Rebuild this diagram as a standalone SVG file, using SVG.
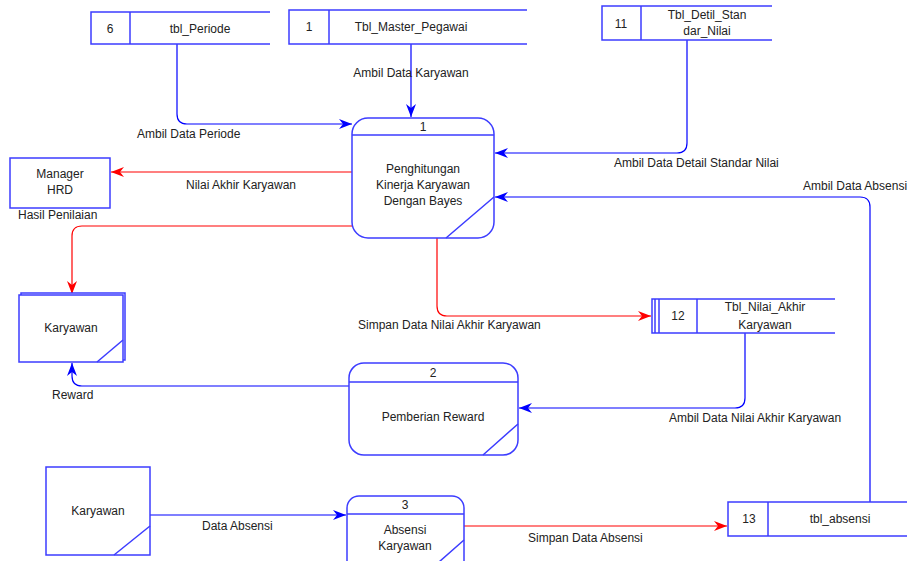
<svg xmlns="http://www.w3.org/2000/svg" width="907" height="561" viewBox="0 0 907 561">
<style>
.n{fill:#fff;stroke:#3c3cff;stroke-width:1.5}
.d{fill:none;stroke:#3c3cff;stroke-width:1.5}
.t{font-family:"Liberation Sans",Arial,sans-serif;font-size:12px;fill:#222;text-anchor:middle}
.l{font-family:"Liberation Sans",Arial,sans-serif;font-size:12px;fill:#222}
.b{fill:none;stroke:#0000ff;stroke-width:1.2;marker-end:url(#ab)}
.r{fill:none;stroke:#ff0000;stroke-width:1.2;marker-end:url(#ar)}
</style>
<defs>
<marker id="ab" markerWidth="14" markerHeight="10" refX="13" refY="5" orient="auto" markerUnits="userSpaceOnUse"><path d="M0,0 L13,5 L0,10 L4,5 Z" fill="#0000ff"/></marker>
<marker id="ar" markerWidth="14" markerHeight="10" refX="13" refY="5" orient="auto" markerUnits="userSpaceOnUse"><path d="M0,0 L13,5 L0,10 L4,5 Z" fill="#ff0000"/></marker>
</defs>
<rect width="907" height="561" fill="#fff"/>
<g id="connectors">
<path class="b" d="M177,44 V114 Q177,124 187,124 H352"/>
<path class="b" d="M411,44 V117"/>
<path class="b" d="M687,40 V143 Q687,153 677,153 H495"/>
<path class="b" d="M870,502 V207 Q870,197 860,197 H495"/>
<path class="r" d="M352,172 H111"/>
<path class="r" d="M352,226 H82 Q72,226 72,236 V294"/>
<path class="r" d="M437,238 V306 Q437,316 447,316 H651"/>
<path class="b" d="M745,333 V398 Q745,408 735,408 H519"/>
<path class="b" d="M349,386 H82 Q72,386 72,376 V363"/>
<path class="b" d="M150,515 H346"/>
<path class="r" d="M464,526 H727"/>
</g>
<g id="labels">
<text class="t" x="411" y="77">Ambil Data Karyawan</text>
<text class="l" x="137" y="138">Ambil Data Periode</text>
<text class="l" x="614" y="167">Ambil Data Detail Standar Nilai</text>
<text class="l" x="803" y="190">Ambil Data Absensi</text>
<text class="l" x="186" y="189">Nilai Akhir Karyawan</text>
<text class="l" x="18" y="219">Hasil Penilaian</text>
<text class="l" x="358" y="329">Simpan Data Nilai Akhir Karyawan</text>
<text class="l" x="669" y="422">Ambil Data Nilai Akhir Karyawan</text>
<text class="l" x="52" y="399">Reward</text>
<text class="l" x="202" y="530">Data Absensi</text>
<text class="l" x="528" y="542">Simpan Data Absensi</text>
</g>
<g id="ds6">
<path class="d" d="M270,12 H91 V44 H270 M130,12 V44"/>
<text class="t" x="110" y="33">6</text>
<text class="t" x="200" y="33">tbl_Periode</text>
</g>
<g id="ds1">
<path class="d" d="M527,10 H289 V44 H527 M329,10 V44"/>
<text class="t" x="309" y="31">1</text>
<text class="t" x="411" y="31">Tbl_Master_Pegawai</text>
</g>
<g id="ds11">
<path class="d" d="M772,6 H602 V40 H772 M641,6 V40"/>
<text class="t" x="621" y="28">11</text>
<text class="t" x="707" y="19">Tbl_Detil_Stan</text>
<text class="t" x="707" y="35">dar_Nilai</text>
</g>
<g id="p1">
<rect class="n" x="352" y="118" width="142" height="120" rx="16"/>
<path class="d" d="M352,135 H494 M446,238 L494,197"/>
<text class="t" x="423" y="131">1</text>
<text class="t" x="423" y="173">Penghitungan</text>
<text class="t" x="423" y="189">Kinerja Karyawan</text>
<text class="t" x="423" y="205">Dengan Bayes</text>
</g>
<g id="mgr">
<rect class="n" x="10" y="158" width="100" height="50"/>
<text class="t" x="60" y="178">Manager</text>
<text class="t" x="60" y="194">HRD</text>
</g>
<g id="kar1">
<rect class="n" x="21" y="293" width="104" height="67"/>
<rect class="n" x="19" y="295" width="104" height="67"/>
<path class="d" d="M97,362 L123,340"/>
<text class="t" x="71" y="332">Karyawan</text>
</g>
<g id="ds12">
<path class="d" d="M835,299 H652 V333 H835 M655,299 V333 M659,299 V333 M697,299 V333"/>
<text class="t" x="678" y="320">12</text>
<text class="t" x="765" y="311">Tbl_Nilai_Akhir</text>
<text class="t" x="765" y="329">Karyawan</text>
</g>
<g id="p2">
<rect class="n" x="349" y="363" width="169" height="92" rx="15"/>
<path class="d" d="M349,382 H518 M483,455 L518,424"/>
<text class="t" x="433" y="377">2</text>
<text class="t" x="433" y="421">Pemberian Reward</text>
</g>
<g id="kar2">
<rect class="n" x="46" y="467" width="104" height="88"/>
<path class="d" d="M114,555 L150,526"/>
<text class="t" x="98" y="515">Karyawan</text>
</g>
<g id="p3">
<rect class="n" x="347" y="496" width="117" height="80" rx="12"/>
<path class="d" d="M347,514 H464 M439,562 L464,540"/>
<text class="t" x="405" y="509">3</text>
<text class="t" x="405" y="534">Absensi</text>
<text class="t" x="405" y="550">Karyawan</text>
</g>
<g id="ds13">
<path class="d" d="M908,502 H728 V536 H908 M768,502 V536"/>
<text class="t" x="749" y="523">13</text>
<text class="t" x="840" y="523">tbl_absensi</text>
</g>
</svg>
